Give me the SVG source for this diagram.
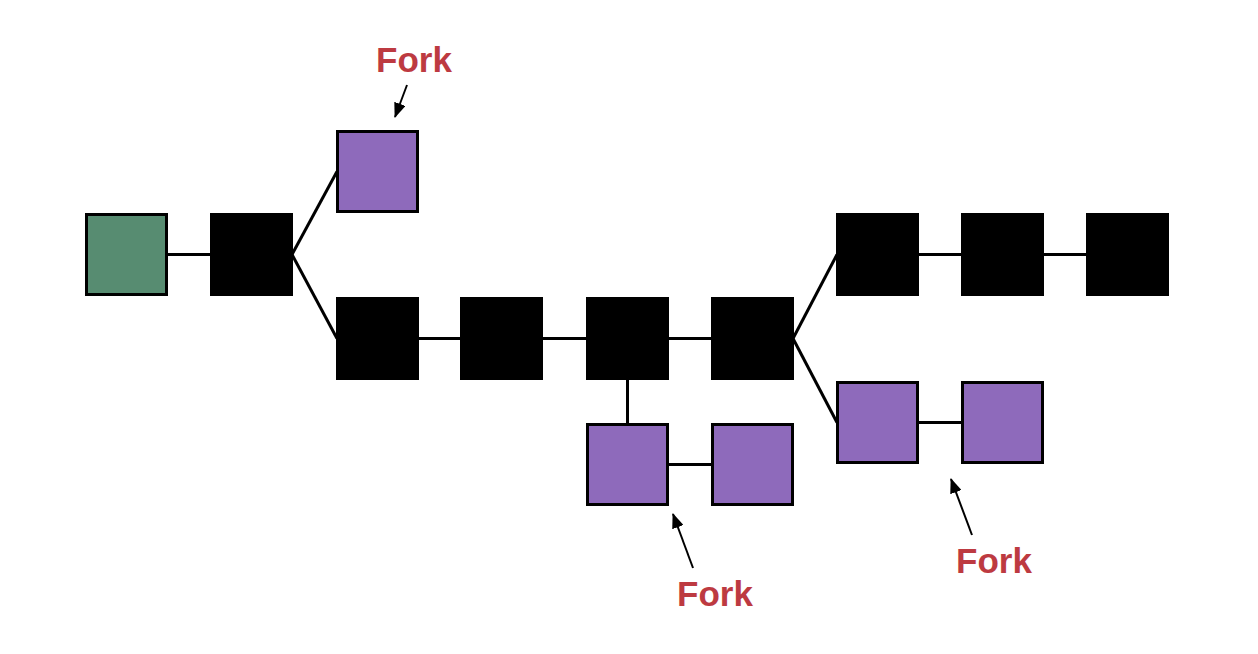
<svg xmlns="http://www.w3.org/2000/svg" width="1258" height="654" viewBox="0 0 1258 654">
<defs>
<style>
.blk{stroke:#000;stroke-width:3}
.b{fill:#000}
.g{fill:#578c71}
.p{fill:#8e6abb}
.ln{stroke:#000;stroke-width:3;fill:none}
.ar{stroke:#000;stroke-width:2;fill:none}
.lbl{font-family:"Liberation Sans",Arial,sans-serif;font-weight:bold;font-size:35px;fill:#bd3a41;text-anchor:middle}
</style>
<marker id="ah" viewBox="0 0 15 12" refX="14" refY="6" markerWidth="15" markerHeight="12" markerUnits="userSpaceOnUse" orient="auto">
<path d="M0,0 L15,6 L0,12 Z" fill="#000"/>
</marker>
</defs>
<rect width="1258" height="654" fill="#fff"/>
<g id="connectors">
<line class="ln" x1="168" y1="254.5" x2="211" y2="254.5"/>
<line class="ln" x1="292" y1="254.5" x2="337" y2="171.5"/>
<line class="ln" x1="292" y1="254.5" x2="337" y2="338.5"/>
<line class="ln" x1="418" y1="338.5" x2="461" y2="338.5"/>
<line class="ln" x1="543" y1="338.5" x2="587" y2="338.5"/>
<line class="ln" x1="668" y1="338.5" x2="712" y2="338.5"/>
<line class="ln" x1="627.5" y1="380" x2="627.5" y2="424"/>
<line class="ln" x1="668" y1="464.5" x2="712" y2="464.5"/>
<line class="ln" x1="793" y1="338.5" x2="837" y2="254.5"/>
<line class="ln" x1="793" y1="338.5" x2="837" y2="422.5"/>
<line class="ln" x1="918" y1="254.5" x2="962" y2="254.5"/>
<line class="ln" x1="1043" y1="254.5" x2="1087" y2="254.5"/>
<line class="ln" x1="918" y1="422.5" x2="962" y2="422.5"/>
<line class="ar" x1="407" y1="85" x2="395" y2="117" marker-end="url(#ah)"/>
<line class="ar" x1="693" y1="568" x2="673" y2="514" marker-end="url(#ah)"/>
<line class="ar" x1="972" y1="535" x2="951" y2="479" marker-end="url(#ah)"/>
</g>
<g id="genesis"><rect class="blk g" x="86.5" y="214.5" width="80" height="80"/></g>
<g id="b1"><rect class="blk b" x="211.5" y="214.5" width="80" height="80"/></g>
<g id="forkTop"><rect class="blk p" x="337.5" y="131.5" width="80" height="80"/></g>
<g id="m1"><rect class="blk b" x="337.5" y="298.5" width="80" height="80"/></g>
<g id="m2"><rect class="blk b" x="461.5" y="298.5" width="80" height="80"/></g>
<g id="m3"><rect class="blk b" x="587.5" y="298.5" width="80" height="80"/></g>
<g id="m4"><rect class="blk b" x="712.5" y="298.5" width="80" height="80"/></g>
<g id="t1"><rect class="blk b" x="837.5" y="214.5" width="80" height="80"/></g>
<g id="t2"><rect class="blk b" x="962.5" y="214.5" width="80" height="80"/></g>
<g id="t3"><rect class="blk b" x="1087.5" y="214.5" width="80" height="80"/></g>
<g id="bm1"><rect class="blk p" x="587.5" y="424.5" width="80" height="80"/></g>
<g id="bm2"><rect class="blk p" x="712.5" y="424.5" width="80" height="80"/></g>
<g id="br1"><rect class="blk p" x="837.5" y="382.5" width="80" height="80"/></g>
<g id="br2"><rect class="blk p" x="962.5" y="382.5" width="80" height="80"/></g>
<g id="labels">
<text class="lbl" x="414" y="72">Fork</text>
<text class="lbl" x="715" y="606">Fork</text>
<text class="lbl" x="994" y="573">Fork</text>
</g>
</svg>
